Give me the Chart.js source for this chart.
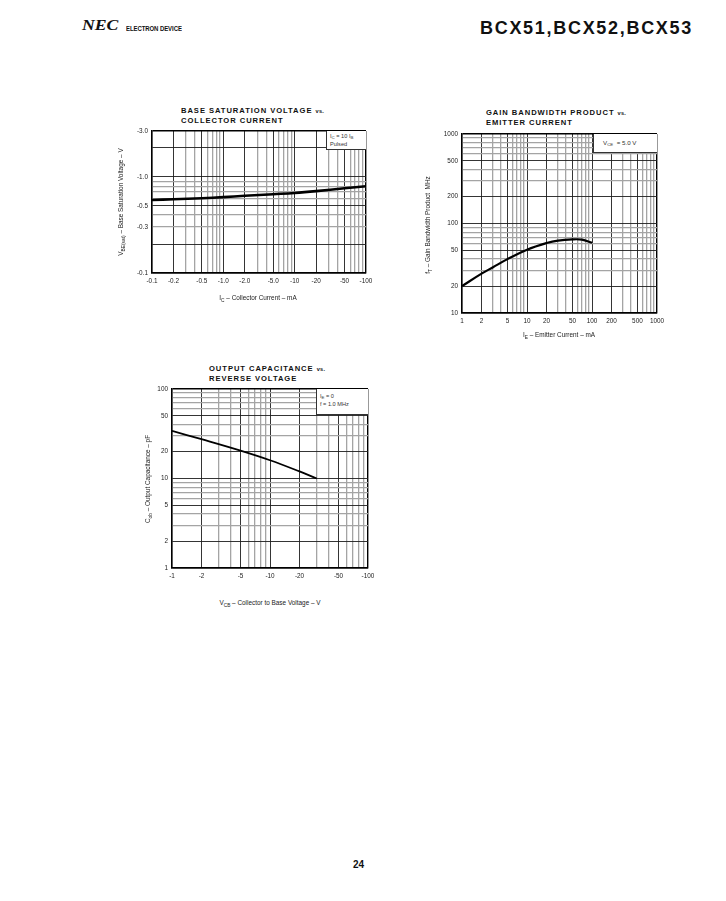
<!DOCTYPE html>
<html>
<head>
<meta charset="utf-8">
<script src="https://cdn.jsdelivr.net/npm/chart.js@4"></script>
<style>
	body { margin: 0; background: #fff; width: 726px; height: 901px; position: relative; overflow: hidden; font-family: 'Liberation Sans', Arial, sans-serif; color: #111; }
	.abs { position: absolute; }
	canvas { position: absolute; }
	.title { font-weight: bold; font-size: 7.6px; letter-spacing: 0.95px; line-height: 9px; white-space: nowrap; }
	.title small { font-size: 5.6px; letter-spacing: 0.3px; }
	.axt { font-size: 6.4px; color: #222; white-space: nowrap; text-align: center; line-height: 10px; height: 10px; }
	.axt sub { font-size: 4.8px; vertical-align: -1.5px; }
	.rot { transform: rotate(-90deg); }
	.box { background: #fff; border-left: 1px solid #333; border-bottom: 1px solid #333; font-size: 5.6px; color: #333; line-height: 7px; padding: 2px 3px; box-sizing: border-box; white-space: nowrap; }
	.box sub { font-size: 4.4px; vertical-align: -1px; }
</style>
</head>
<body>
<div class="abs" style="left:82px;top:17px;font:italic bold 15px 'Liberation Serif',serif;transform:scaleX(1.18);transform-origin:left center;">NEC</div>
<div class="abs" style="left:126px;top:24px;font-weight:bold;font-size:7.5px;transform:scaleX(0.8);transform-origin:left center;letter-spacing:-0.1px;">ELECTRON DEVICE</div>
<div class="abs" style="right:33px;top:18px;font-weight:bold;font-size:18px;letter-spacing:1.7px;">BCX51,BCX52,BCX53</div>

<div class="abs title" style="left:181px;top:106px;">BASE SATURATION VOLTAGE <small>vs.</small><br>COLLECTOR CURRENT</div>
<div class="abs title" style="left:486px;top:108px;">GAIN BANDWIDTH PRODUCT <small>vs.</small><br>EMITTER CURRENT</div>
<div class="abs title" style="left:209px;top:364px;">OUTPUT CAPACITANCE <small>vs.</small><br>REVERSE VOLTAGE</div>

<canvas id="vbeChart" width="268" height="175" style="left:110px;top:120px;"></canvas>
<canvas id="ftChart" width="249" height="212" style="left:420px;top:123px;"></canvas>
<canvas id="cobChart" width="250" height="212" style="left:130px;top:378px;"></canvas>

<div class="abs axt rot" style="left:41px;top:197px;width:160px;">V<sub>BE(sat)</sub> – Base Saturation Voltage – V</div>
<div class="abs axt" style="left:178px;top:293px;width:160px;">I<sub>C</sub> – Collector Current – mA</div>
<div class="abs axt rot" style="left:348px;top:220px;width:160px;">f<sub>T</sub> – Gain Bandwidth Product&nbsp;&nbsp;MHz</div>
<div class="abs axt" style="left:479px;top:330px;width:160px;">I<sub>E</sub> – Emitter Current – mA</div>
<div class="abs axt rot" style="left:68px;top:474px;width:160px;">C<sub>ob</sub> – Output Capacitance – pF</div>
<div class="abs axt" style="left:180px;top:598px;width:180px;">V<sub>CB</sub> – Collector to Base Voltage – V</div>

<div class="abs box" style="left:326px;top:131px;width:40px;height:19px;">I<sub>C</sub> = 10 I<sub>B</sub><br>Pulsed</div>
<div class="abs box" style="left:593px;top:134px;width:64px;height:19px;line-height:14px;padding-left:9px;font-size:6.2px;">V<sub>CE</sub>&nbsp;&nbsp;=&nbsp;5.0 V</div>
<div class="abs box" style="left:316px;top:389px;width:52px;height:26px;padding-top:4px;">I<sub>E</sub> = 0<br>f = 1.0 MHz</div>

<div class="abs" style="left:353px;top:859px;font-weight:bold;font-size:10px;">24</div>

<script>
// Base saturation voltage vs collector current (magnitudes, shown with negative labels)
const icValues = [0.1, 0.2, 0.5, 1, 2, 5, 10, 20, 50, 100];
const vbeSatValues = [0.575, 0.585, 0.6, 0.615, 0.635, 0.66, 0.68, 0.71, 0.76, 0.8];
const icTicks = [0.1, 0.2, 0.5, 1, 2, 5, 10, 20, 50, 100];
const icTickLabels = ['-0.1', '-0.2', '-0.5', '-1.0', '-2.0', '-5.0', '-10', '-20', '-50', '-100'];
const vbeTicks = [3, 1, 0.5, 0.3, 0.1];
const vbeTickLabels = ['-3.0', '-1.0', '-0.5', '-0.3', '-0.1'];

// Gain bandwidth product vs emitter current
const ieValues = [1, 2, 3, 5, 10, 20, 30, 50, 70, 100];
const ftValues = [20, 27.5, 32.5, 40, 51, 60.5, 64.5, 66.5, 66, 61];
const ieTicks = [1, 2, 5, 10, 20, 50, 100, 200, 500, 1000];
const ieTickLabels = ['1', '2', '5', '10', '20', '50', '100', '200', '500', '1000'];
const ftTicks = [1000, 500, 200, 100, 50, 20, 10];
const ftTickLabels = ['1000', '500', '200', '100', '50', '20', '10'];

// Output capacitance vs reverse voltage
const vcbValues = [1, 2, 5, 10, 20, 30];
const cobValues = [34, 27.5, 20.5, 16, 12, 10];
const vcbTicks = [1, 2, 5, 10, 20, 50, 100];
const vcbTickLabels = ['-1', '-2', '-5', '-10', '-20', '-50', '-100'];
const cobTicks = [100, 50, 20, 10, 5, 2, 1];
const cobTickLabels = ['100', '50', '20', '10', '5', '2', '1'];

function logGrid(min, max) {
	var out = [];
	for(var e = Math.floor(Math.log10(min)); e <= Math.ceil(Math.log10(max)); e++) {
		for(var s = 1; s <= 9; s++) {
			var v = parseFloat((s * Math.pow(10, e)).toPrecision(6));
			if(v >= min - 1e-9 && v <= max + 1e-9) out.push(v);
		}
	}
	return out;
}

function near(a, b) {
	return Math.abs(a - b) < b * 1e-6;
}

function isDark(v) {
	var s = Math.round(v / Math.pow(10, Math.floor(Math.log10(v) + 1e-9)));
	return s === 1 || s === 2 || s === 5;
}

function gridColor(min, max) {
	return function(ctx) {
		var v = ctx.tick ? ctx.tick.value : 0;
		if(near(v, min) || near(v, max)) return '#000';
		return isDark(v) ? '#1e1e1e' : '#a4a4a4';
	};
}

function gridWidth(min, max) {
	return function(ctx) {
		var v = ctx.tick ? ctx.tick.value : 0;
		if(near(v, min) || near(v, max)) return 1.4;
		return isDark(v) ? 0.9 : 1.3;
	};
}

function logAxis(min, max, tickVals, tickLabels, isX) {
	return {
		type: 'logarithmic',
		min: min,
		max: max,
		afterBuildTicks: function(scale) {
			scale.ticks = logGrid(min, max).map(function(v) { return { value: v }; });
		},
		afterFit: function(scale) {
			if(isX) scale.height = 22;
			else scale.width = 42;
		},
		border: { display: true, color: '#000', width: 1.4 },
		grid: { color: gridColor(min, max), lineWidth: gridWidth(min, max), drawTicks: false },
		ticks: {
			autoSkip: false,
			maxRotation: 0,
			minRotation: 0,
			padding: 4,
			color: '#222',
			font: { family: "'Liberation Sans', Arial, sans-serif", size: 6.4 },
			callback: function(value) {
				for(var i = 0; i < tickVals.length; i++) {
					if(near(value, tickVals[i])) return tickLabels[i];
				}
				return '';
			}
		}
	};
}

function makeChart(id, xs, ys, xAxis, yAxis, lineWidth) {
	var ctx = document.getElementById(id).getContext('2d');
	return new Chart(ctx, {
		type: 'line',
		data: {
			datasets: [{
				data: xs.map(function(x, i) { return { x: x, y: ys[i] }; }),
				borderColor: '#000',
				borderWidth: lineWidth,
				pointRadius: 0,
				tension: 0.4,
				fill: false
			}]
		},
		options: {
			responsive: false,
			animation: false,
			layout: { padding: { top: 11, right: 12, left: 0, bottom: 0 } },
			plugins: { legend: { display: false }, tooltip: { enabled: false } },
			scales: { x: xAxis, y: yAxis }
		}
	});
}

makeChart('vbeChart', icValues, vbeSatValues,
	logAxis(0.1, 100, icTicks, icTickLabels, true),
	logAxis(0.1, 3, vbeTicks, vbeTickLabels, false), 2.6);
makeChart('ftChart', ieValues, ftValues,
	logAxis(1, 1000, ieTicks, ieTickLabels, true),
	logAxis(10, 1000, ftTicks, ftTickLabels, false), 2.2);
makeChart('cobChart', vcbValues, cobValues,
	logAxis(1, 100, vcbTicks, vcbTickLabels, true),
	logAxis(1, 100, cobTicks, cobTickLabels, false), 1.8);
</script>
</body>
</html>
